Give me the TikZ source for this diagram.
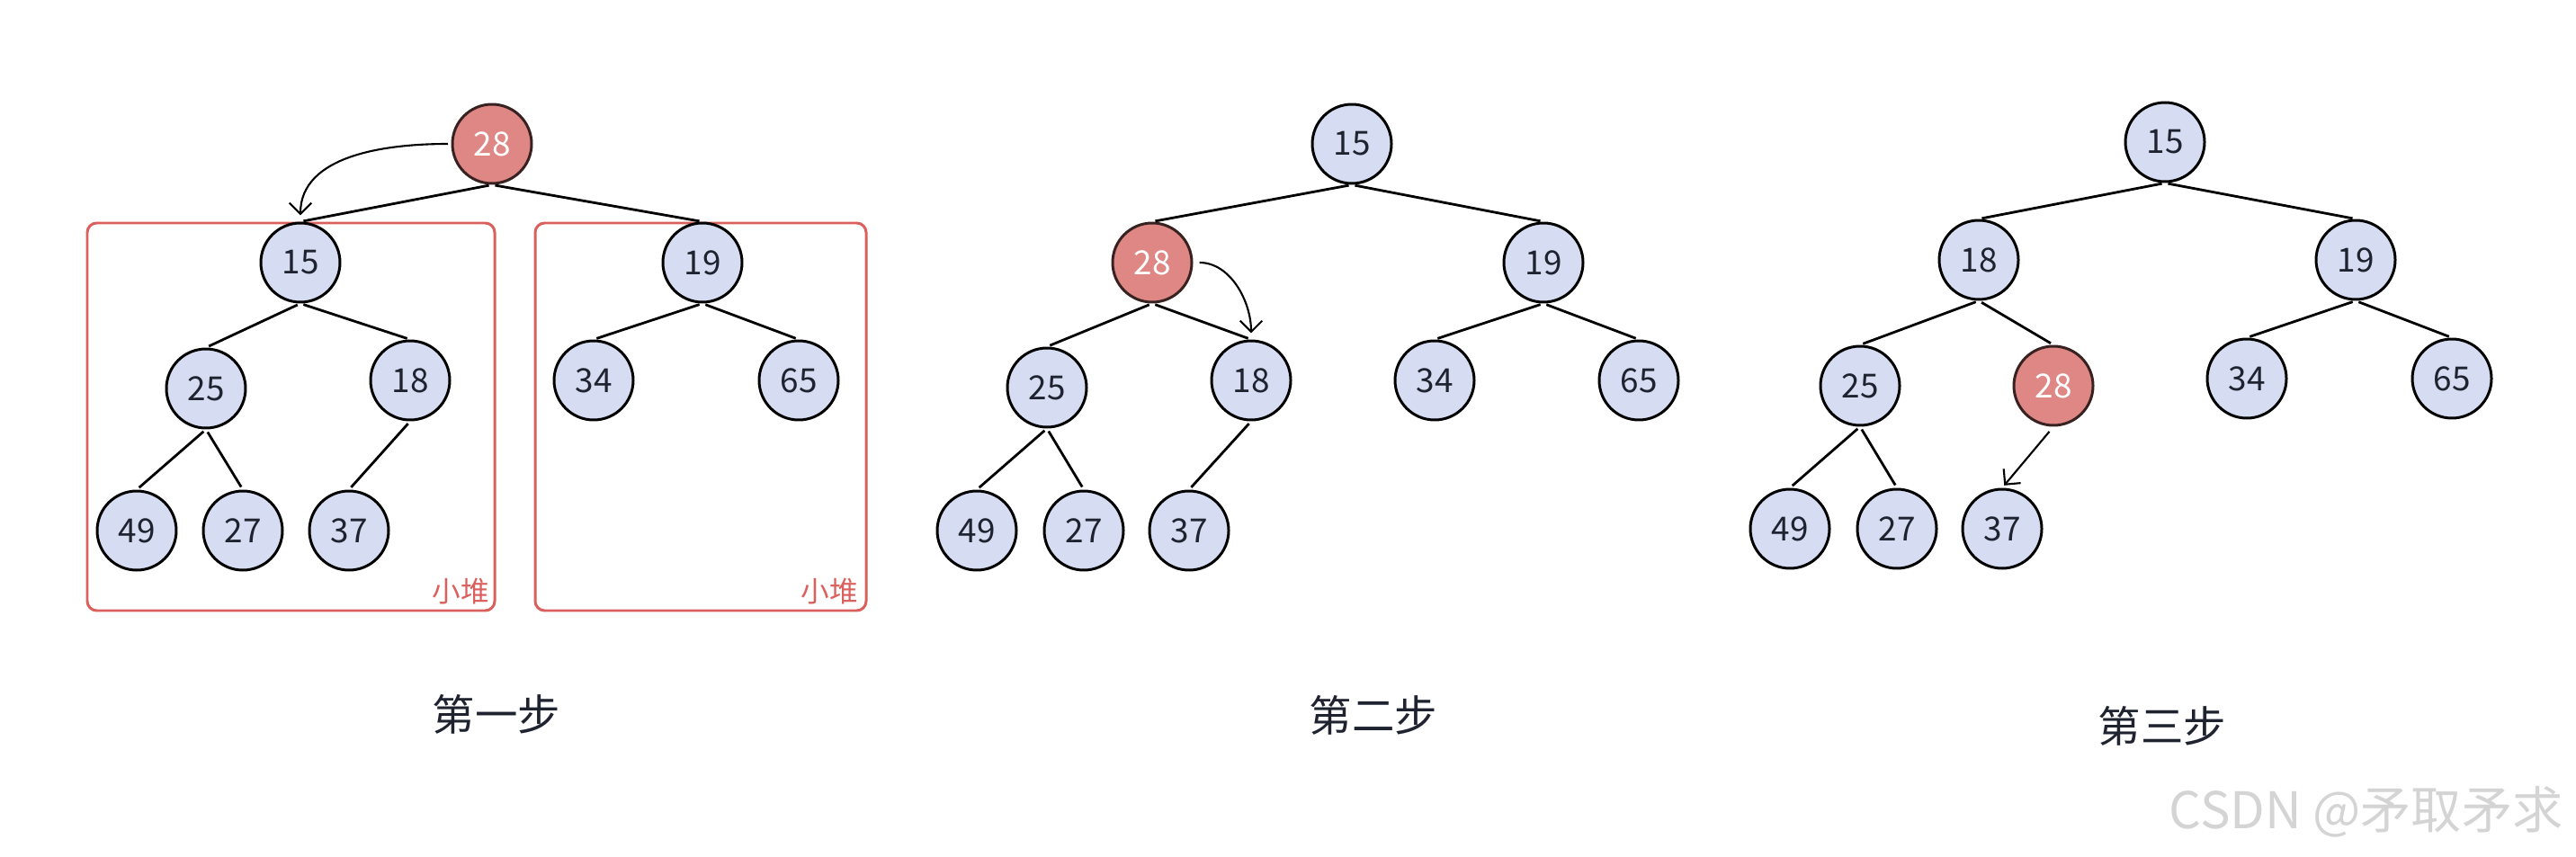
\documentclass[tikz,border=0pt]{standalone}
\usepackage{fontspec}
\setmainfont{Noto Sans CJK SC}
\usetikzlibrary{arrows.meta, positioning}
\definecolor{keyfill}{HTML}{D6DCF2}
\definecolor{hotfill}{HTML}{DE8784}
\definecolor{heapred}{HTML}{D9605C}
\definecolor{inkdark}{HTML}{1F2330}
\definecolor{markgray}{HTML}{D4D4D4}

\begin{document}
\begin{tikzpicture}[
    every node/.style={font=\fontsize{10.5}{12}\selectfont},
    key/.style={circle, draw=black, line width=0.85pt, fill=keyfill, text=inkdark,
                minimum size=0.88cm, inner sep=0pt},
    hot/.style={key, fill=hotfill, draw=black!75!hotfill, text=white},
    edge/.style={line width=0.8pt, shorten <=1pt, shorten >=1pt},
    move/.style={-{Straight Barb[length=3.5pt,width=7pt]}, line width=0.6pt},
    heap/.style={draw=heapred, line width=0.85pt, rounded corners=3pt},
    tag/.style={text=heapred, font=\fontsize{9}{10}\selectfont},
    caption/.style={text=inkdark, font=\fontsize{13.5}{15}\selectfont}
  ]
    \useasboundingbox (0,0) rectangle (28.64,9.52);

    % step one
    \draw[heap] (0.97,2.73) rectangle (5.50,7.04);
    \draw[heap] (5.95,2.73) rectangle (9.63,7.04);
    \node[tag] (heapl) at (5.12,2.94) {小堆};
    \node[tag] (heapr) at (9.22,2.94) {小堆};

    \node[hot] (a28) at (5.47,7.92) {28};
    \node[key] (a15) at (3.34,6.60) {15};
    \node[key] (a19) at (7.81,6.60) {19};
    \node[key] (a25) at (2.29,5.20) {25};
    \node[key] (a18) at (4.56,5.29) {18};
    \node[key] (a34) at (6.60,5.29) {34};
    \node[key] (a65) at (8.88,5.29) {65};
    \node[key] (a49) at (1.52,3.62) {49};
    \node[key] (a27) at (2.70,3.62) {27};
    \node[key] (a37) at (3.88,3.62) {37};

    \draw[edge] (a28.south) -- (a15.north);
    \draw[edge] (a28.south) -- (a19.north);
    \draw[edge] (a15.south) -- (a25.north);
    \draw[edge] (a15.south) -- (a18.north);
    \draw[edge] (a19.south) -- (a34.north);
    \draw[edge] (a19.south) -- (a65.north);
    \draw[edge] (a25.south) -- (a49.north);
    \draw[edge] (a25.south) -- (a27.north);
    \draw[edge] (a18.south) -- (a37.north);
    \draw[move, shorten <=1pt, shorten >=2pt] (a28.west) to[out=180, in=90] (a15.north);

    \node[caption] (cap1) at (5.52,1.58) {第一步};

    % step two
    \node[key] (b15) at (15.03,7.92) {15};
    \node[hot] (b28) at (12.81,6.60) {28};
    \node[key] (b19) at (17.16,6.60) {19};
    \node[key] (b25) at (11.64,5.21) {25};
    \node[key] (b18) at (13.91,5.29) {18};
    \node[key] (b34) at (15.95,5.29) {34};
    \node[key] (b65) at (18.22,5.29) {65};
    \node[key] (b49) at (10.86,3.62) {49};
    \node[key] (b27) at (12.05,3.62) {27};
    \node[key] (b37) at (13.22,3.62) {37};

    \draw[edge] (b15.south) -- (b28.north);
    \draw[edge] (b15.south) -- (b19.north);
    \draw[edge] (b28.south) -- (b25.north);
    \draw[edge] (b28.south) -- (b18.north);
    \draw[edge] (b19.south) -- (b34.north);
    \draw[edge] (b19.south) -- (b65.north);
    \draw[edge] (b25.south) -- (b49.north);
    \draw[edge] (b25.south) -- (b27.north);
    \draw[edge] (b18.south) -- (b37.north);
    \draw[move, shorten <=2pt, shorten >=2pt] (b28.east) to[out=0, in=90] (b18.north);

    \node[caption] (cap2) at (15.27,1.57) {第二步};

    % step three
    \node[key] (c15) at (24.07,7.94) {15};
    \node[key] (c18) at (22.00,6.63) {18};
    \node[key] (c19) at (26.19,6.63) {19};
    \node[key] (c25) at (20.68,5.23) {25};
    \node[hot] (c28) at (22.83,5.23) {28};
    \node[key] (c34) at (24.98,5.31) {34};
    \node[key] (c65) at (27.26,5.31) {65};
    \node[key] (c49) at (19.90,3.64) {49};
    \node[key] (c27) at (21.09,3.64) {27};
    \node[key] (c37) at (22.26,3.64) {37};

    \draw[edge] (c15.south) -- (c18.north);
    \draw[edge] (c15.south) -- (c19.north);
    \draw[edge] (c18.south) -- (c25.north);
    \draw[edge] (c18.south) -- (c28.north);
    \draw[edge] (c19.south) -- (c34.north);
    \draw[edge] (c19.south) -- (c65.north);
    \draw[edge] (c25.south) -- (c49.north);
    \draw[edge] (c25.south) -- (c27.north);
    \draw[move, shorten <=2pt, shorten >=1pt] (c28.south) -- (c37.north);

    \node[caption] (cap3) at (24.04,1.45) {第三步};

    \node[text=markgray, font=\fontsize{16}{18}\selectfont, anchor=east] (mark) at (28.62,0.49) {CSDN @矛取矛求};
  \end{tikzpicture}
\end{document}
